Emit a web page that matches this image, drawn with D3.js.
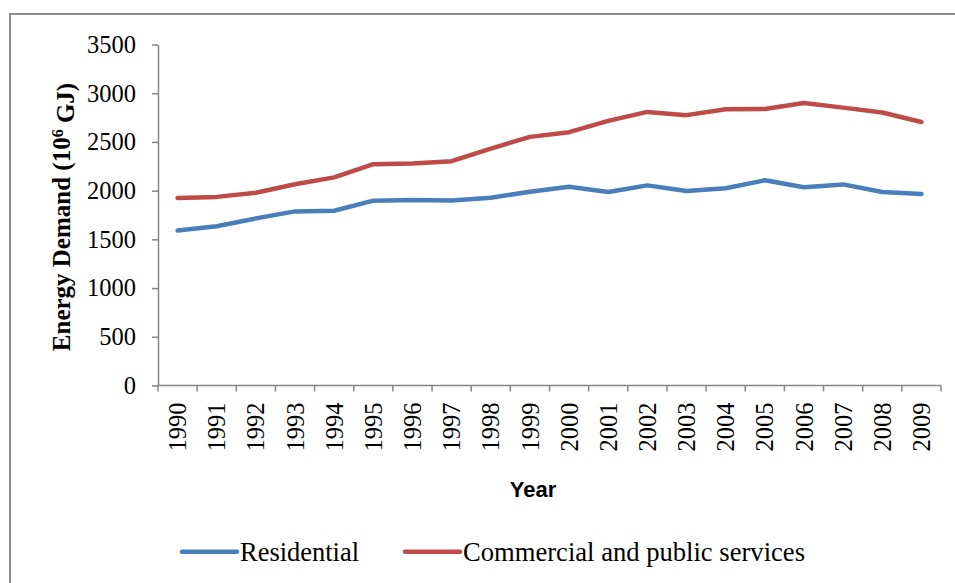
<!DOCTYPE html>
<html>
<head>
<meta charset="utf-8">
<script src="https://cdn.jsdelivr.net/npm/d3@7"></script>
<style>
  body { margin: 0; background: #fff; }
  svg { display: block; }
  .axis path, .axis line { stroke: #868686; stroke-width: 1.5; }
  .axis text { font-family: "Liberation Serif", serif; font-size: 24.5px; fill: #000; }
</style>
</head>
<body>
<svg id="chart" width="955" height="583"></svg>
<script>
(function() {
    'use strict';

    var years = ['1990','1991','1992','1993','1994','1995','1996','1997','1998','1999',
                 '2000','2001','2002','2003','2004','2005','2006','2007','2008','2009'];
    var residential = [1590, 1635, 1715, 1787, 1794, 1897, 1904, 1898, 1927, 1988,
                       2040, 1986, 2054, 1996, 2024, 2106, 2034, 2064, 1986, 1965];
    var commercial = [1925, 1936, 1978, 2066, 2136, 2272, 2278, 2302, 2432, 2552,
                      2600, 2716, 2808, 2775, 2836, 2838, 2900, 2852, 2802, 2705];
    var yTicks = [0, 500, 1000, 1500, 2000, 2500, 3000, 3500];
    var seriesNames = ['Residential', 'Commercial and public services'];
    var colors = ['#4a7ebb', '#be4b48'];

    var margin = {top: 44.5, right: 14, bottom: 197.5, left: 158},
        width = 955 - margin.left - margin.right,
        height = 583 - margin.top - margin.bottom;

    var svg = d3.select("svg#chart");

    // outer frame
    svg.append("rect")
        .attr("x", 10).attr("y", 14)
        .attr("width", 960).attr("height", 600)
        .attr("fill", "none")
        .attr("stroke", "#8c8c8c")
        .attr("stroke-width", 2);

    var g = svg.append("g")
        .attr("transform", "translate(" + margin.left + "," + margin.top + ")");

    var x = d3.scaleBand().domain(years).range([0, 783]);
    var y = d3.scaleLinear().domain([0, 3500]).range([height, 0]);

    // y axis
    var yAxis = d3.axisLeft(y).tickValues(yTicks).tickFormat(d3.format("d"))
        .tickSize(6).tickSizeOuter(0).tickPadding(16);
    g.append("g").attr("class", "y axis").call(yAxis);

    // x axis, ticks on band edges
    var xAxisG = g.append("g")
        .attr("class", "x axis")
        .attr("transform", "translate(0," + height + ")");
    xAxisG.append("line")
        .attr("x1", 0).attr("x2", 783)
        .attr("y1", 0).attr("y2", 0);
    var edges = years.map(function(d) { return x(d); }).concat([783]);
    xAxisG.selectAll(".edge").data(edges).enter().append("line")
        .attr("class", "edge")
        .attr("x1", function(d) { return d; }).attr("x2", function(d) { return d; })
        .attr("y1", 0).attr("y2", 6);
    xAxisG.selectAll(".lbl").data(years).enter().append("text")
        .attr("class", "lbl")
        .attr("transform", function(d) {
            return "translate(" + (x(d) + x.bandwidth() / 2) + ",17) rotate(-90)";
        })
        .attr("text-anchor", "end")
        .attr("dy", "0.35em")
        .text(function(d) { return d; });

    // lines
    var line = d3.line()
        .x(function(d, i) { return x(years[i]) + x.bandwidth() / 2; })
        .y(function(d) { return y(d); });
    [residential, commercial].forEach(function(s, k) {
        g.append("path")
            .datum(s)
            .attr("fill", "none")
            .attr("stroke", colors[k])
            .attr("stroke-width", 4.5)
            .attr("stroke-linejoin", "round")
            .attr("stroke-linecap", "round")
            .attr("d", line);
    });

    // axis titles
    var yt = svg.append("text")
        .attr("transform", "translate(70," + (margin.top + height / 2 + 2) + ") rotate(-90)")
        .attr("text-anchor", "middle")
        .style("font-family", "'Liberation Serif', serif")
        .style("font-weight", "bold")
        .style("font-size", "25px");
    yt.append("tspan").text("Energy Demand (10");
    yt.append("tspan").attr("dy", "-0.45em").style("font-size", "16px").text("6");
    yt.append("tspan").attr("dy", "0.45em").text(" GJ)");

    svg.append("text")
        .attr("x", 533).attr("y", 497)
        .attr("text-anchor", "middle")
        .style("font-family", "'Liberation Sans', sans-serif")
        .style("font-weight", "bold")
        .style("font-size", "22px")
        .text("Year");

    // legend
    var legX = [182, 405];
    var legW = [119, 342];
    var leg = svg.selectAll(".leg").data(seriesNames).enter().append("g")
        .attr("class", "leg")
        .attr("transform", function(d, i) { return "translate(" + legX[i] + ",551.7)"; });
    leg.append("line")
        .attr("x1", 0).attr("x2", 55)
        .attr("stroke", function(d, i) { return colors[i]; })
        .attr("stroke-width", 4.5)
        .attr("stroke-linecap", "round");
    leg.append("text")
        .attr("x", 58)
        .attr("y", 9.3)
        .attr("textLength", function(d, i) { return legW[i]; })
        .attr("lengthAdjust", "spacingAndGlyphs")
        .style("font-family", "'Liberation Serif', serif")
        .style("font-size", "28px")
        .text(function(d) { return d; });
})();
</script>
</body>
</html>
